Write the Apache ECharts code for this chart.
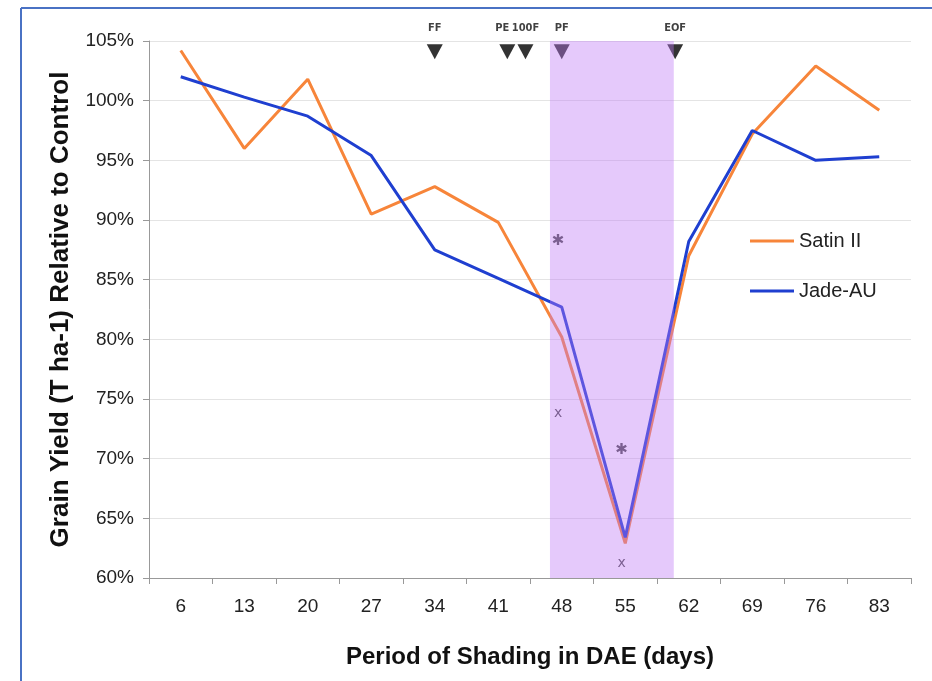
<!DOCTYPE html>
<html><head><meta charset="utf-8">
<script src="https://cdn.jsdelivr.net/npm/echarts@6/dist/echarts.min.js"></script>
<style>html,body{margin:0;padding:0;background:#fff}#c{width:932px;height:681px}</style>
</head><body><div id="c"></div>
<script>
const categories = ['6','13','20','27','34','41','48','55','62','69','76','83'];
const satin = [104.2, 96.0, 101.8, 90.5, 92.8, 89.8, 80.2, 62.9, 87.0, 97.2, 102.9, 99.2];
const jade  = [102.0, 100.3, 98.7, 95.4, 87.5, 85.1, 82.7, 63.4, 88.2, 97.5, 95.0, 95.3];
const stageDays   = [34, 42, 44, 48, 60.5];
const stageLabels = ['FF', 'PE', '100F', 'PF', 'EOF'];
const stageY = 104.1;
const shadeRange = [46.7, 60.35];
const sigDays   = [47.6, 47.6, 54.6, 54.6];
const sigValues = [88.2, 73.8, 70.7, 61.2];
const sigMarks  = ['✱', 'x', '✱', 'x'];

const font = 'Liberation Sans, Arial, Helvetica, sans-serif';
const chart = echarts.init(document.getElementById('c'));
chart.setOption({
  animation: false,
  textStyle: { fontFamily: font },
  grid: { left: 149, right: 21, top: 41, bottom: 103 },
  legend: {
    data: ['Satin II', 'Jade-AU'], orient: 'vertical', left: 745, top: 226,
    icon: 'rect', itemWidth: 44, itemHeight: 3, itemGap: 30,
    textStyle: { fontSize: 20, color: '#222', fontFamily: font }
  },
  xAxis: [{
    type: 'category', data: categories, boundaryGap: true,
    name: 'Period of Shading in DAE (days)', nameLocation: 'middle', nameGap: 67,
    nameTextStyle: { fontSize: 24, fontWeight: 'bold', color: '#111', fontFamily: font },
    axisLine: { lineStyle: { color: '#999' } },
    axisTick: { show: true, length: 6, lineStyle: { color: '#999' } },
    axisLabel: { fontSize: 19, color: '#222', margin: 19 },
    splitLine: { show: false }
  }, {
    type: 'value', min: 2.5, max: 86.5, show: false
  }],
  yAxis: {
    type: 'value', min: 60, max: 105, interval: 5,
    name: 'Grain Yield (T ha-1) Relative to Control', nameLocation: 'middle', nameGap: 75,
    nameTextStyle: { fontSize: 26, fontWeight: 'bold', color: '#111', fontFamily: font },
    axisLine: { show: true, lineStyle: { color: '#999' } },
    axisTick: { show: true, length: 6, lineStyle: { color: '#999' } },
    axisLabel: { fontSize: 19, color: '#222', margin: 15, formatter: '{value}%' },
    splitLine: { lineStyle: { color: '#e4e4e4' } }
  },
  graphic: [
    { type: 'line', shape: { x1: 21, y1: 8, x2: 932, y2: 8 }, style: { stroke: '#4a72c4', lineWidth: 2 }, z: 100 },
    { type: 'line', shape: { x1: 21, y1: 8, x2: 21, y2: 681 }, style: { stroke: '#4a72c4', lineWidth: 2 }, z: 100 }
  ],
  series: [
    { name: 'Satin II', type: 'line', data: satin, symbol: 'none', z: 2,
      lineStyle: { color: '#f7853a', width: 3 }, itemStyle: { color: '#f7853a' } },
    { name: 'Jade-AU', type: 'line', data: jade, symbol: 'none', z: 3,
      lineStyle: { color: '#1f3fd0', width: 3 }, itemStyle: { color: '#1f3fd0' } },
    { name: 'stages', type: 'scatter', xAxisIndex: 1, z: 4,
      data: stageDays.map((d, i) => ({ value: [d, stageY], name: stageLabels[i],
        label: i === 1 ? { offset: [-5, 0] } : {} })),
      symbol: 'triangle', symbolRotate: 180, symbolSize: [16, 15],
      itemStyle: { color: '#000' },
      label: { show: true, position: 'top', distance: 11, formatter: '{b}',
        fontSize: 11, fontWeight: 'bold', color: '#111',
        fontFamily: 'Liberation Sans Narrow, DejaVu Sans Condensed, sans-serif' }
    },
    { name: 'sig', type: 'scatter', xAxisIndex: 1, z: 4,
      data: sigDays.map((d, i) => ({ value: [d, sigValues[i]], name: sigMarks[i],
        label: { fontSize: sigMarks[i] === 'x' ? 14 : 15 } })),
      symbolSize: 1, itemStyle: { color: 'rgba(0,0,0,0)' },
      label: { show: true, position: 'inside', formatter: '{b}', color: '#222',
        fontFamily: 'DejaVu Sans, sans-serif' }
    },
    { name: 'shade', type: 'custom', xAxisIndex: 1, z: 10, silent: true,
      data: [shadeRange],
      renderItem: function (params, api) {
        const p0 = api.coord([api.value(0), 105]);
        const p1 = api.coord([api.value(1), 60]);
        return { type: 'rect', shape: { x: p0[0], y: p0[1], width: p1[0] - p0[0], height: p1[1] - p0[1] },
          style: { fill: 'rgba(190,120,245,0.4)' } };
      }
    }
  ]
});
</script></body></html>
